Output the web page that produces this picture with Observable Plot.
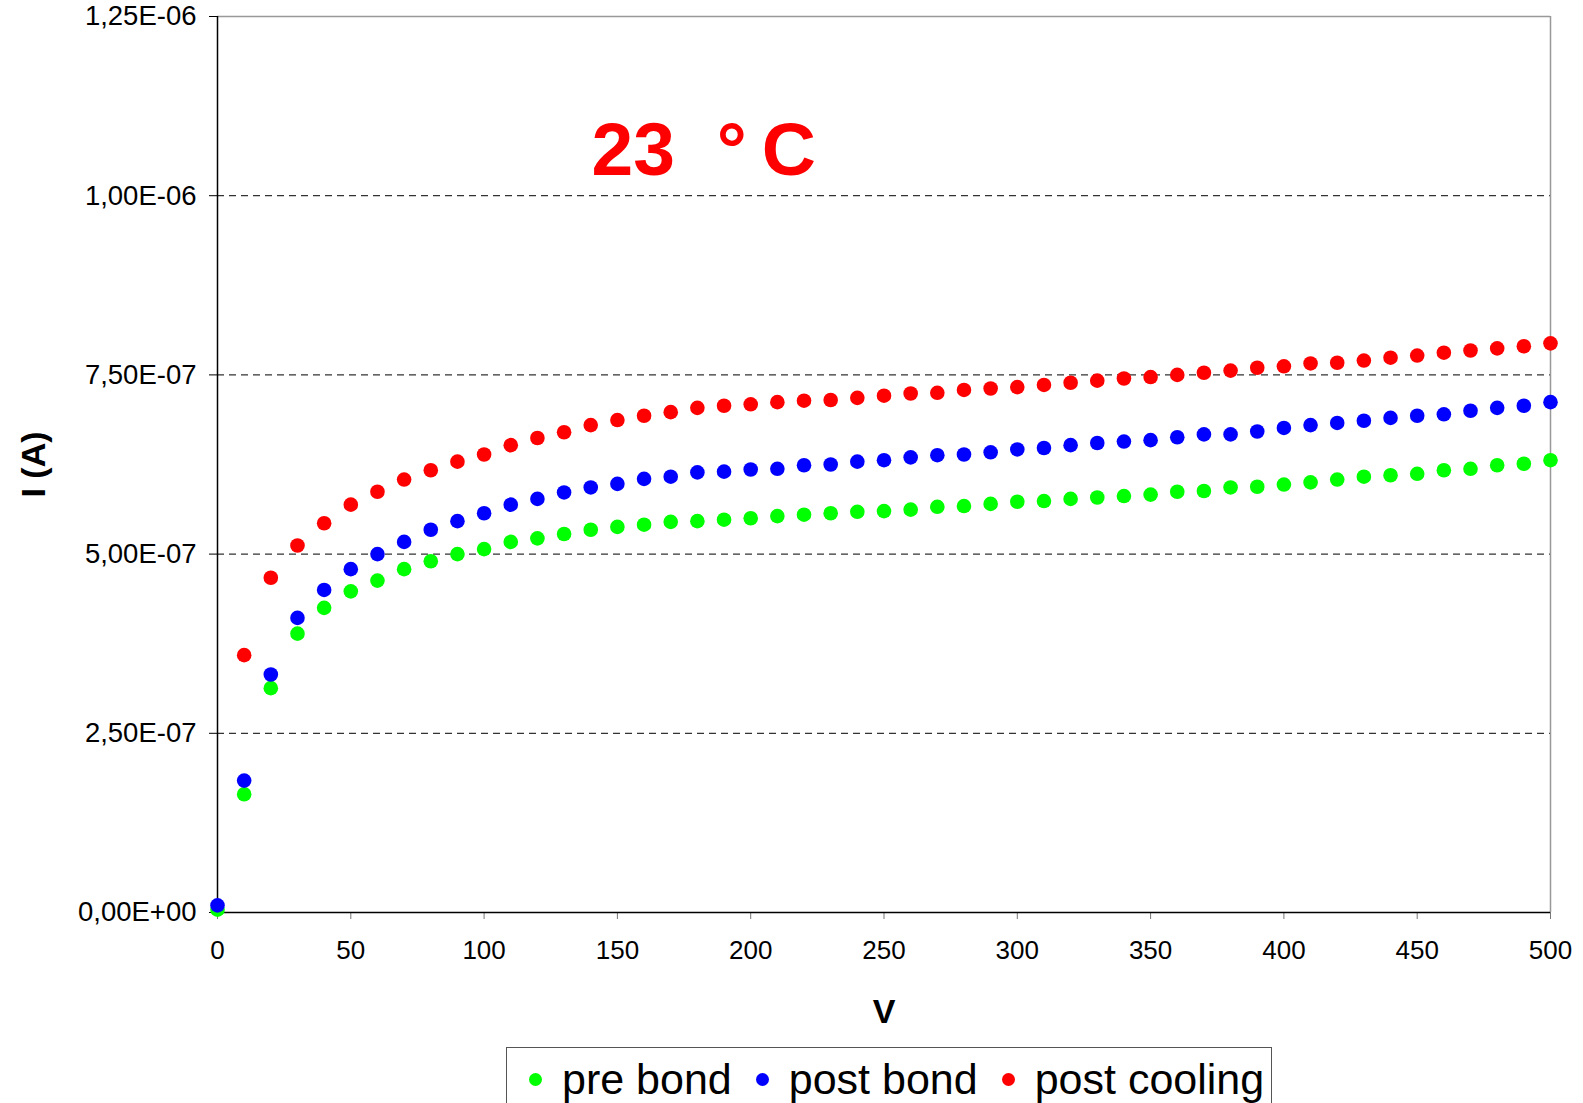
<!DOCTYPE html>
<html><head><meta charset="utf-8">
<script src="https://cdn.jsdelivr.net/npm/d3@7"></script>
<script src="https://cdn.jsdelivr.net/npm/@observablehq/plot@0.6"></script>
<style>
body{margin:0;background:#fff;font-family:"Liberation Sans",Arial,sans-serif;}
#chart{position:relative;width:1583px;height:1103px;overflow:hidden;background:#fff}
#chart svg{display:block;font-family:"Liberation Sans",Arial,sans-serif;}
g[aria-label="x-axis label"] text{font-size:34px;font-weight:bold;}
g[aria-label="y-axis label"] text{font-size:34px;font-weight:bold;}
#legend{position:absolute;left:506px;top:1047px;width:766px;height:80px;border:1.5px solid #555;box-sizing:border-box;display:flex;align-items:flex-start;padding:8px 0 0 22px;font-size:43px;line-height:1.1;color:#000;white-space:nowrap}
#legend .item{display:flex;align-items:center;margin-right:24px}
#legend .sw{width:13px;height:13px;border-radius:50%;margin-right:20px}
</style></head><body><div id="chart"></div><script>
const voltages=[0,10,20,30,40,50,60,70,80,90,100,110,120,130,140,150,160,170,180,190,200,210,220,230,240,250,260,270,280,290,300,310,320,330,340,350,360,370,380,390,400,410,420,430,440,450,460,470,480,490,500];
const preBond=[0.004,0.165,0.313,0.389,0.425,0.448,0.463,0.479,0.490,0.500,0.507,0.517,0.522,0.528,0.534,0.538,0.541,0.545,0.546,0.548,0.550,0.553,0.555,0.557,0.559,0.560,0.562,0.566,0.567,0.570,0.573,0.574,0.577,0.579,0.581,0.583,0.587,0.588,0.593,0.594,0.597,0.600,0.604,0.608,0.610,0.612,0.617,0.619,0.624,0.626,0.631];
const postBond=[0.010,0.184,0.332,0.411,0.450,0.479,0.500,0.517,0.534,0.546,0.557,0.569,0.577,0.586,0.593,0.598,0.605,0.608,0.614,0.615,0.618,0.619,0.624,0.625,0.629,0.631,0.635,0.638,0.639,0.642,0.646,0.648,0.652,0.655,0.657,0.659,0.663,0.667,0.667,0.671,0.676,0.680,0.683,0.686,0.690,0.693,0.695,0.700,0.704,0.707,0.712];
const postCooling=[null,0.359,0.467,0.512,0.543,0.569,0.587,0.604,0.617,0.629,0.639,0.652,0.662,0.670,0.680,0.687,0.693,0.698,0.704,0.707,0.709,0.712,0.714,0.715,0.718,0.721,0.724,0.725,0.729,0.731,0.733,0.736,0.739,0.742,0.745,0.747,0.750,0.753,0.756,0.760,0.762,0.766,0.767,0.770,0.774,0.777,0.781,0.784,0.787,0.790,0.794];
const seriesNames=["pre bond","post bond","post cooling"];
const seriesColors=["#00ff00","#0000ff","#ff0000"];
const seriesValues=[preBond,postBond,postCooling];
const yTicks=[0,2.5e-7,5e-7,7.5e-7,1e-6,1.25e-6];
const gridLines=[2.5e-7,5e-7,7.5e-7,1e-6];
const xTicks=[0,50,100,150,200,250,300,350,400,450,500];
const annotation=[{v:140.3,i:1.0617e-6,label:"23\u00a0\u00a0°\u2009C"}];

function sci(d){
  const [m,e]=d.toExponential(2).split("e");
  const s=e[0]==="-"?"-":"+";
  return m.replace(".",",")+"E"+s+String(Math.abs(+e)).padStart(2,"0");
}
const data=[];
seriesNames.forEach((name,k)=>{
  voltages.forEach((v,j)=>{
    const val=seriesValues[k][j];
    if(val!=null) data.push({series:name,v,i:val*1e-6});
  });
});

const plot=Plot.plot({
  width:1583,height:1040,
  marginLeft:217,marginRight:33,marginTop:16,marginBottom:128,
  x:{domain:[0,500]},
  y:{domain:[0,1.25e-6]},
  color:{domain:seriesNames,range:seriesColors},
  marks:[
    Plot.ruleY(gridLines,{stroke:"#333",strokeDasharray:"7,5",strokeWidth:1.2}),
    Plot.ruleY([1.25e-6],{stroke:"#999",strokeWidth:1.5}),
    Plot.ruleX([500],{stroke:"#999",strokeWidth:1.5}),
    Plot.axisY({ticks:yTicks,tickFormat:sci,tickSize:8,tickPadding:13,fontSize:27.5,label:"I (A)",labelAnchor:"center",labelOffset:197,labelArrow:"none"}),
    Plot.axisX({ticks:xTicks,tickSize:7,tickPadding:21,fontSize:26,label:"V",labelAnchor:"center",labelOffset:110,labelArrow:"none",stroke:"#777"}),
    Plot.ruleX([0],{stroke:"#000",strokeWidth:1.5}),
    Plot.ruleY([0],{stroke:"#000",strokeWidth:1.5}),
    Plot.dot(data,{x:"v",y:"i",fill:"series",r:7.3,stroke:null}),
    Plot.text(annotation,{x:"v",y:"i",text:"label",fill:"#ff0000",fontSize:75,fontWeight:"bold",fontFamily:"Liberation Sans",textAnchor:"start",lineAnchor:"middle"})
  ]
});
const chart=document.getElementById("chart");
chart.appendChild(plot);
const legend=document.createElement("div");
legend.id="legend";
seriesNames.forEach((n,k)=>{
  const it=document.createElement("div");it.className="item";
  const sw=document.createElement("span");sw.className="sw";sw.style.background=seriesColors[k];
  const tx=document.createElement("span");tx.textContent=n;
  it.appendChild(sw);it.appendChild(tx);legend.appendChild(it);
});
chart.appendChild(legend);
</script></body></html>
